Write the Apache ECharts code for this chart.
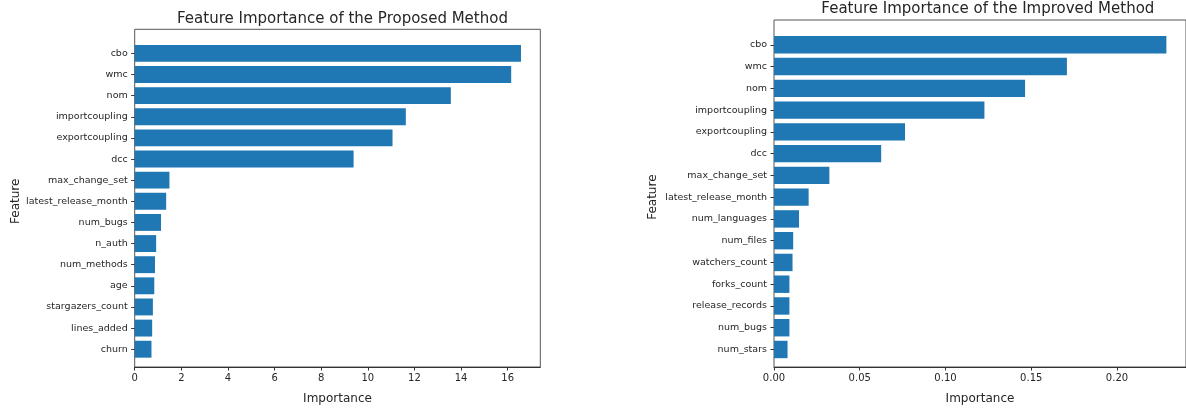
<!DOCTYPE html>
<html><head><meta charset="utf-8">
<script src="https://cdn.jsdelivr.net/npm/echarts@6/dist/echarts.min.js"></script>
<style>html,body{margin:0;padding:0;background:#fff;overflow:hidden}#c{width:1186px;height:410px}</style>
</head><body><div id="c"></div>
<script>
const proposedFeatures = ['cbo','wmc','nom','importcoupling','exportcoupling','dcc','max_change_set','latest_release_month','num_bugs','n_auth','num_methods','age','stargazers_count','lines_added','churn'];
const proposedValues = [16.57,16.15,13.56,11.63,11.06,9.39,1.49,1.35,1.13,0.92,0.87,0.84,0.78,0.75,0.72];
const proposedTicks = [0,2,4,6,8,10,12,14,16];

const improvedFeatures = ['cbo','wmc','nom','importcoupling','exportcoupling','dcc','max_change_set','latest_release_month','num_languages','num_files','watchers_count','forks_count','release_records','num_bugs','num_stars'];
const improvedValues = [0.2288,0.1708,0.1464,0.1227,0.0764,0.0625,0.0323,0.0202,0.0146,0.0112,0.0108,0.0090,0.0090,0.0090,0.0079];
const improvedTicks = [0,0.05,0.10,0.15,0.20];

const titles = ['Feature Importance of the Proposed Method','Feature Importance of the Improved Method'];

const FONT = 'DejaVu Sans';
const TXT = '#262626';
const BAR = '#1f77b4';

const panels = [
  {frame:{left:134.7, top:29.3, width:405.6, height:344}, feats:proposedFeatures, vals:proposedValues, ticks:proposedTicks, fmt:v=>String(v), titleTop:7, nameX:15},
  {frame:{left:774, top:20, width:417.7, height:354.3}, feats:improvedFeatures, vals:improvedValues, ticks:improvedTicks, fmt:v=>v.toFixed(2), titleTop:-3, nameX:652}
];

const option = {animation:false, backgroundColor:'#fff', title:[], grid:[], xAxis:[], yAxis:[], series:[]};

panels.forEach((p, i) => {
  const n = p.feats.length;
  const span = (n - 1) + 0.8;
  const unit = p.frame.height / (span * 1.1);
  const inset = (0.05 * span - 0.1) * unit;
  const xmax = Math.max(...p.vals) * 1.05;
  const fg = i * 2, bg = i * 2 + 1;
  option.title.push({
    text: titles[i], left: p.frame.left + p.frame.width / 2, top: p.titleTop, textAlign: 'center',
    textStyle: {fontFamily: FONT, fontSize: 15, fontWeight: 'normal', color: TXT}
  });
  option.grid.push({left:p.frame.left, top:p.frame.top, width:p.frame.width, height:p.frame.height,
    show:true, borderColor:'#555', borderWidth:1, backgroundColor:'transparent', containLabel:false});
  option.grid.push({left:p.frame.left, top:p.frame.top + inset, width:p.frame.width, height:p.frame.height - 2*inset, containLabel:false});
  option.xAxis.push({
    gridIndex: fg, type:'value', min:0, max:xmax,
    name:'Importance', nameLocation:'middle', nameGap:26,
    nameTextStyle:{fontFamily:FONT, fontSize:12, color:TXT},
    axisLine:{show:true, lineStyle:{color:'#333', width:1}},
    axisTick:{show:true, length:3.5, customValues:p.ticks, lineStyle:{color:'#333'}},
    axisLabel:{customValues:p.ticks, formatter:p.fmt, fontFamily:FONT, fontSize:10, color:TXT, margin:6},
    splitLine:{show:false}
  });
  option.xAxis.push({gridIndex: bg, type:'value', min:0, max:xmax, show:false, splitLine:{show:false}});
  option.yAxis.push({gridIndex: fg, type:'value', min:0, max:1, show:false, splitLine:{show:false}});
  option.yAxis.push({
    gridIndex: bg, type:'category', inverse:true, data:p.feats,
    name:'Feature', nameLocation:'middle', nameGap:p.frame.left - p.nameX - 7, nameRotate:90,
    nameTextStyle:{fontFamily:FONT, fontSize:12, color:TXT},
    axisLine:{show:false},
    axisTick:{show:true, alignWithLabel:true, length:3.5, lineStyle:{color:'#333'}},
    axisLabel:{fontFamily:FONT, fontSize:9.5, color:TXT, margin:7},
    splitLine:{show:false}
  });
  option.series.push({
    type:'bar', xAxisIndex: bg, yAxisIndex: bg, data:p.vals,
    barCategoryGap:'20%', itemStyle:{color:BAR}, silent:true
  });
});

const chart = echarts.init(document.getElementById('c'), null, {renderer:'canvas'});
chart.setOption(option);
</script>
</body></html>
